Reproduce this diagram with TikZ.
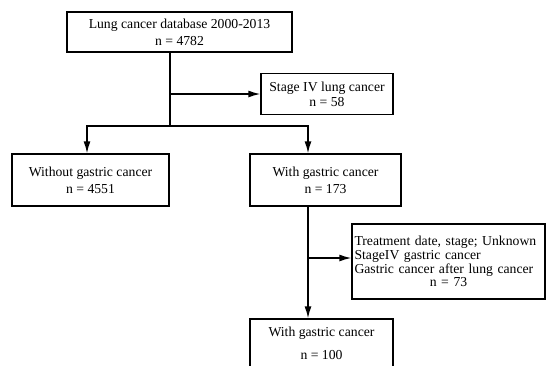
\documentclass[tikz,border=0pt]{standalone}
\usepackage{fontspec}
\setmainfont{Liberation Serif}
\usetikzlibrary{arrows.meta}
\tikzstyle{box} = [draw=black, line width=1.4pt, rectangle, inner sep=0pt, align=center, font={\fontsize{13.7}{17}\selectfont}]
\tikzstyle{flow} = [line width=1.4pt, -{Latex[length=12pt,width=7pt]}]
\tikzstyle{line} = [line width=1.4pt]

\begin{document}
\begin{tikzpicture}[x=1pt,y=-1pt]
        \useasboundingbox (0,0) rectangle (546,365);
        \node[box,minimum width=225pt,minimum height=40pt](db) at (179.5,32){Lung cancer database 2000-2013\\n = 4782};
        \node[box,minimum width=132pt,minimum height=41pt,font={\fontsize{13.7}{15}\selectfont}](st4) at (327,94){Stage IV lung cancer\\n = 58};
        \node[box,minimum width=157pt,minimum height=52pt](nogc) at (90.5,180){Without gastric cancer\\n = 4551};
        \node[box,minimum width=151pt,minimum height=52pt](gc) at (325.5,180){With gastric cancer\\n = 173};
        \node[box,minimum width=193pt,minimum height=75pt,text width=188pt,align=left,font={\fontsize{13.7}{13.8}\selectfont}](excl) at (448.5,261.5){Treatment date, stage; Unknown\\StageIV gastric cancer\\Gastric cancer after lung cancer\\\hfill n = 73\hfill\mbox{}};
        \node[box,minimum width=143pt,minimum height=49pt,font={\fontsize{13.7}{23}\selectfont}](gcfinal) at (321.5,343.5){With gastric cancer\\n = 100};
        \coordinate (split) at (170,126);
        \coordinate (mid) at (308,258);
        \draw[line](db.south -| split)--(split);
        \draw[flow](split |- st4.west)--(st4.west);
        \draw[flow](split)-|([xshift=-3.5pt]nogc.north);
        \draw[flow](split)-|([xshift=-17.5pt]gc.north);
        \draw[line](gc.south -| mid)--(mid);
        \draw[flow](mid)--(gcfinal.north -| mid);
        \draw[flow](mid)--(mid -| excl.west);
      \end{tikzpicture}
\end{document}
